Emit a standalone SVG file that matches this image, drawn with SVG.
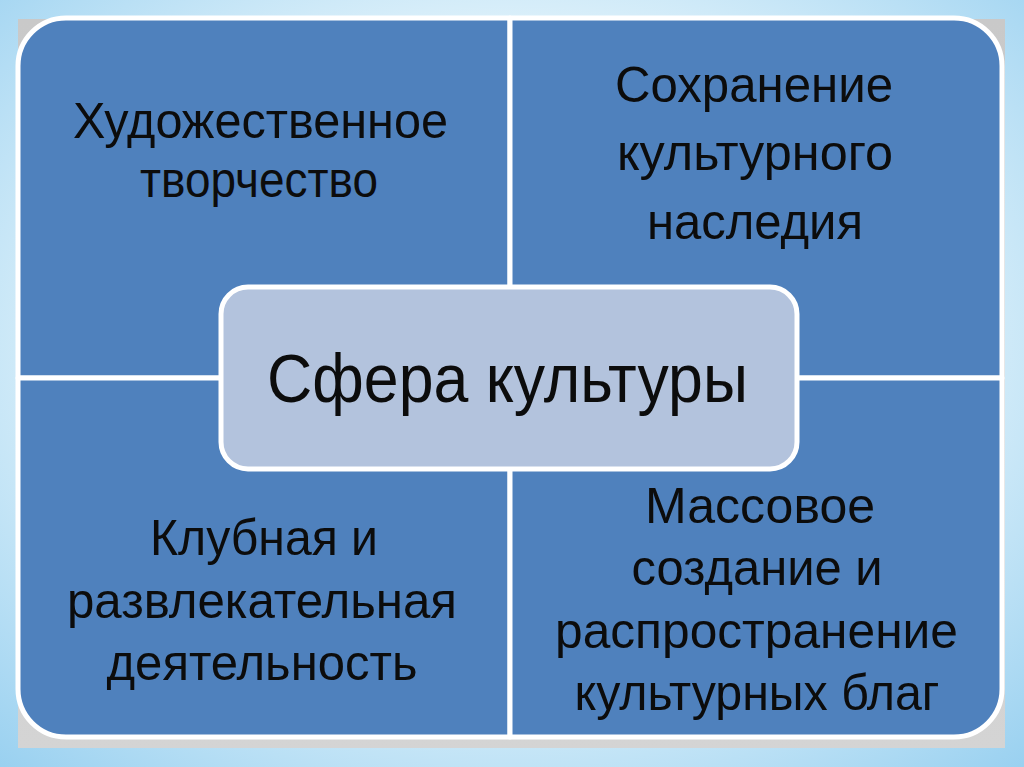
<svg xmlns="http://www.w3.org/2000/svg" width="1024" height="767" viewBox="0 0 1024 767">
<defs>
<radialGradient id="bg" cx="50%" cy="45%" r="75%">
<stop offset="0" stop-color="#f2f9fd"/>
<stop offset="0.55" stop-color="#dcf0fa"/>
<stop offset="1" stop-color="#98d0f0"/>
</radialGradient>
<linearGradient id="sh" x1="0" y1="0" x2="0" y2="1">
<stop offset="0" stop-color="#c9c9c9"/>
<stop offset="1" stop-color="#d4d4d4"/>
</linearGradient>
<style>
.q{fill:#4f81bd;stroke:#ffffff;stroke-width:5;stroke-linejoin:round}
.c{fill:#b3c3dd;stroke:#ffffff;stroke-width:5}
.t{font-family:"Liberation Sans",Arial,sans-serif;font-size:50px;fill:#0c0c0c;text-anchor:middle}
.ct{font-family:"Liberation Sans",Arial,sans-serif;font-size:68px;fill:#0c0c0c;text-anchor:middle}
</style>
</defs>
<rect x="0" y="0" width="1024" height="767" fill="url(#bg)"/>
<rect x="18" y="19" width="987" height="729" fill="url(#sh)"/>
<g id="connectors"></g>
<g id="node-tl">
<path class="q" d="M66,18 H510 V378 H18 V66 A48 48 0 0 1 66 18 Z"/>
<text class="t" x="260.5" y="138" textLength="375" lengthAdjust="spacingAndGlyphs">Художественное</text>
<text class="t" x="259" y="197" textLength="238" lengthAdjust="spacingAndGlyphs">творчество</text>
</g>
<g id="node-tr">
<path class="q" d="M510,18 H954 A48 48 0 0 1 1002 66 V378 H510 Z"/>
<text class="t" x="754" y="102" textLength="278" lengthAdjust="spacingAndGlyphs">Сохранение</text>
<text class="t" x="755" y="170" textLength="276" lengthAdjust="spacingAndGlyphs">культурного</text>
<text class="t" x="755" y="239" textLength="216" lengthAdjust="spacingAndGlyphs">наследия</text>
</g>
<g id="node-bl">
<path class="q" d="M18,378 H510 V737 H66 A48 48 0 0 1 18 689 Z"/>
<text class="t" x="264" y="555" textLength="228" lengthAdjust="spacingAndGlyphs">Клубная и</text>
<text class="t" x="262" y="618" textLength="390" lengthAdjust="spacingAndGlyphs">развлекательная</text>
<text class="t" x="262" y="680" textLength="311" lengthAdjust="spacingAndGlyphs">деятельность</text>
</g>
<g id="node-br">
<path class="q" d="M510,378 H1002 V689 A48 48 0 0 1 954 737 H510 Z"/>
<text class="t" x="760" y="523" textLength="230" lengthAdjust="spacingAndGlyphs">Массовое</text>
<text class="t" x="757" y="585" textLength="251" lengthAdjust="spacingAndGlyphs">создание и</text>
<text class="t" x="756.5" y="648" textLength="403" lengthAdjust="spacingAndGlyphs">распространение</text>
<text class="t" x="757" y="710" textLength="365" lengthAdjust="spacingAndGlyphs">культурных благ</text>
</g>
<g id="node-center">
<rect class="c" x="221" y="287" width="576" height="182" rx="27" ry="27"/>
<text class="ct" x="507.5" y="402" textLength="481" lengthAdjust="spacingAndGlyphs">Сфера культуры</text>
</g>
</svg>
